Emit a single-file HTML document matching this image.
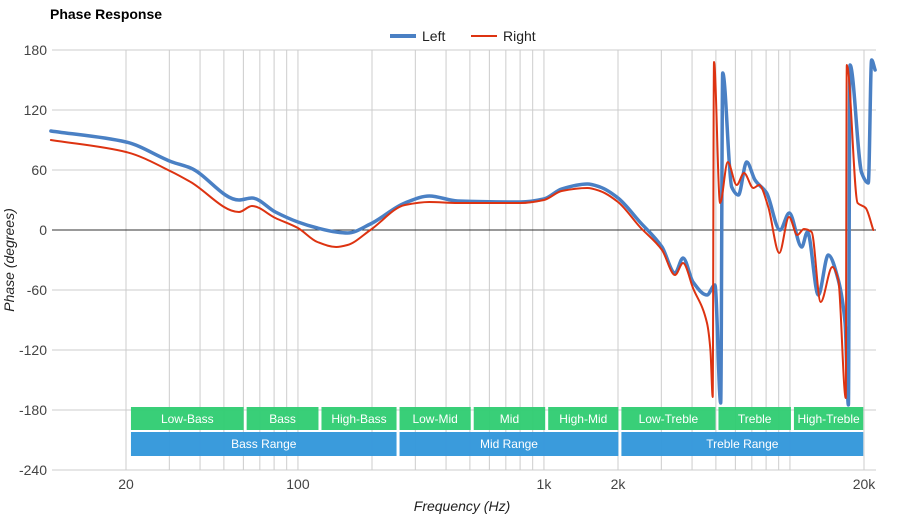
<!DOCTYPE html>
<html><head><meta charset="utf-8"><style>
body{margin:0;background:#fff;}
svg{display:block;font-family:"Liberation Sans",Arial,sans-serif;}
</style></head><body>
<svg id="chart" width="900" height="520" viewBox="0 0 900 520">
<text x="50" y="19" font-size="14" font-weight="bold" fill="#000">Phase Response</text>
<g>
<g><line x1="390" y1="36" x2="416" y2="36" stroke="#4a80c4" stroke-width="4"/><text x="422" y="41" font-size="14" fill="#222">Left</text></g>
<g><line x1="471" y1="36" x2="497" y2="36" stroke="#dd3311" stroke-width="2"/><text x="503" y="41" font-size="14" fill="#222">Right</text></g>
</g>
<g id="grid"></g>
<g id="yticks"></g>
<g id="xticks"></g>
<g id="bands"></g>
<g id="series"></g>
<text transform="translate(14,260) rotate(-90)" text-anchor="middle" font-size="14" font-style="italic" fill="#222">Phase (degrees)</text>
<text x="462" y="511" text-anchor="middle" font-size="14" font-style="italic" fill="#222">Frequency (Hz)</text>
</svg>
<script>
const yTicks=[180,120,60,0,-60,-120,-180,-240];
const xTickLabels=["20","100","1k","2k","20k"];
const xTickFreqs=[20,100,1000,2000,20000];
const gridFreqs=[20,30,40,50,60,70,80,90,100,200,300,400,500,600,700,800,900,1000,2000,3000,4000,5000,6000,7000,8000,9000,10000,20000];
const leftFreqs=[9.9,20,30.8,36.6,57.6,65,81,100,120,143,159,197,272,342,446,804,1000,1180,1500,1690,2000,2456,3019,3410,3676,4036,4600,4955,5230,5330,5795,6170,6670,7208,8036,9108,9940,11160,11780,13040,14320,15720,16750,17280,17540,19570,20830,21480,22180];
const leftVals=[99,88,68,62,30,32,18,8,2,-2,-3,6,27,34,29,28,31,41,46,43,32,8,-17,-43,-28,-52,-65,-55,-173,157,43,35,68,50,37,0,17,-17,-2,-65,-25,-50,-93,-175,165,57,47,170,160];
const rightFreqs=[9.9,20,30.8,36.6,57.6,65,81,100,120,143,159,197,272,342,446,804,1000,1180,1500,1690,2000,2456,3019,3410,3676,4036,4600,4750,4854,4910,5200,5586,6076,6504,7096,7500,8163,9050,9910,10714,11400,12250,13330,14860,15720,16860,17020,18840,20320,21820];
const rightVals=[90,78,58,48,18,24,12,2,-12,-17,-15,0,25,28,27,27,30,39,42,39,28,3,-20,-45,-33,-58,-93,-120,-167,168,27,68,45,57,42,45,23,-23,13,-5,1,-2,-72,-37,-50,-168,165,27,22,0];
const bandNames=["Low-Bass","Bass","High-Bass","Low-Mid","Mid","High-Mid","Low-Treble","Treble","High-Treble"];
const bandEdges=[20.66,61,122.9,255.2,511,1026,2036,5051,10235,20140];
const rangeNames=["Bass Range","Mid Range","Treble Range"];
const rangeEdges=[20.66,255.2,2036,20140];

const NS="http://www.w3.org/2000/svg";
const X0=52,X1=876,Y0=50,Y1=470;
function xs(f){return 126+246*Math.log10(f/20);}
function ys(v){return Y0+(180-v)*(Y1-Y0)/420;}
function mk(tag,attrs,parent){const e=document.createElementNS(NS,tag);for(const k in attrs)e.setAttribute(k,attrs[k]);parent.appendChild(e);return e;}
const grid=document.getElementById('grid');
gridFreqs.forEach(f=>{
  const l=mk('line',{x1:xs(f),x2:xs(f),y1:Y0,y2:Y1,stroke:'#ccc','stroke-width':1},grid);
  
  
});
yTicks.forEach(v=>{
  const l=mk('line',{x1:X0,x2:X1,y1:ys(v),y2:ys(v),stroke:v===0?'#333':'#ccc','stroke-width':1},grid);
  
  
});
const yt=document.getElementById('yticks');
yTicks.forEach(v=>{
  const t=mk('text',{x:47,y:ys(v)+5,'text-anchor':'end','font-size':14,fill:'#444'},yt);
  t.textContent=v;
  
  
});
const xt=document.getElementById('xticks');
xTickFreqs.forEach((f,i)=>{
  const t=mk('text',{x:xs(f),y:489,'text-anchor':'middle','font-size':14,fill:'#444'},xt);
  t.textContent=xTickLabels[i];
  
  
});
const bands=document.getElementById('bands');
bandNames.forEach((n,i)=>{
  const a=xs(bandEdges[i])+1.5,b=xs(bandEdges[i+1])-1.5;
  const g=mk('g',{},bands);
  
  
  mk('rect',{x:a,y:407,width:b-a,height:23,fill:'#2ecc71','fill-opacity':0.95},g);
  const t=mk('text',{x:(a+b)/2,y:423,'text-anchor':'middle','font-size':12,fill:'#fff'},g);
  t.textContent=n;
});
rangeNames.forEach((n,i)=>{
  const a=xs(rangeEdges[i])+1.5,b=xs(rangeEdges[i+1])-1.5;
  const g=mk('g',{},bands);
  
  
  mk('rect',{x:a,y:432,width:b-a,height:24,fill:'#3498db','fill-opacity':0.97},g);
  const t=mk('text',{x:(a+b)/2,y:448,'text-anchor':'middle','font-size':12,fill:'#fff'},g);
  t.textContent=n;
});
// monotone cubic path (no overshoot)
function monoPath(px,py){
  const n=px.length,d=[],m=[];
  for(let i=0;i<n-1;i++)d.push((py[i+1]-py[i])/(px[i+1]-px[i]));
  m[0]=d[0];m[n-1]=d[n-2];
  for(let i=1;i<n-1;i++){
    if(d[i-1]*d[i]<=0)m[i]=0;
    else{const w1=2*(px[i+1]-px[i])+(px[i]-px[i-1]),w2=(px[i+1]-px[i])+2*(px[i]-px[i-1]);m[i]=(w1+w2)/(w1/d[i-1]+w2/d[i]);}
  }
  let s='M'+px[0].toFixed(1)+','+py[0].toFixed(1);
  for(let i=0;i<n-1;i++){
    const h=(px[i+1]-px[i])/3;
    s+=' C'+(px[i]+h).toFixed(1)+','+(py[i]+m[i]*h).toFixed(1)+' '+(px[i+1]-h).toFixed(1)+','+(py[i+1]-m[i+1]*h).toFixed(1)+' '+px[i+1].toFixed(1)+','+py[i+1].toFixed(1);
  }
  return s;
}
const series=document.getElementById('series');
function line(fs,vs,color,w,name){
  const px=fs.map(xs),py=vs.map(ys);
  const p=mk('path',{d:monoPath(px,py),fill:'none',stroke:color,'stroke-width':w,'stroke-linejoin':'round','stroke-linecap':'round'},series);
  
  
}
line(leftFreqs,leftVals,'#4a80c4',3.5,'series-left');
line(rightFreqs,rightVals,'#dd3311',2,'series-right');
</script>
</body></html>
